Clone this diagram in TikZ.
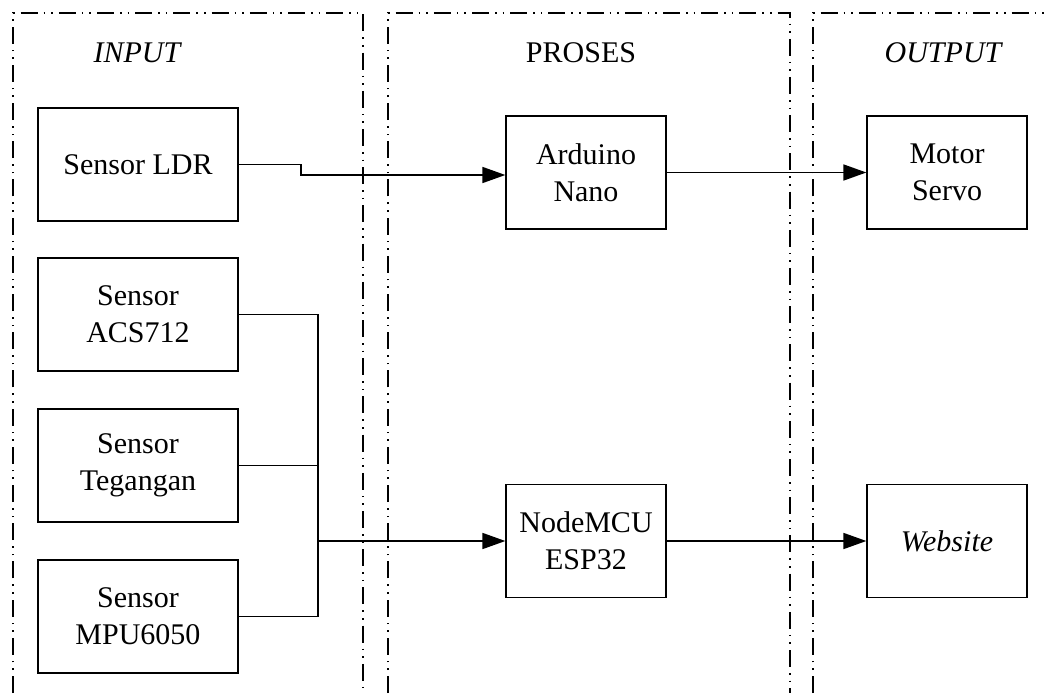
\documentclass[tikz,border=0pt]{standalone}
\usepackage{fontspec}
\setmainfont{Liberation Serif}
\usetikzlibrary{arrows.meta}
\begin{document}
\begin{tikzpicture}[x=1pt,y=-1pt,
  region/.style={line width=1.6pt,dash pattern=on 17pt off 6pt on 1.6pt off 6pt on 1.6pt off 6pt},
  blk/.style={draw,line width=1.3pt,minimum height=113pt,align=center,inner sep=0pt,font=\fontsize{30}{37}\selectfont},
  sensor/.style={blk,minimum width=200pt},
  proc/.style={blk,minimum width=160pt},
  title/.style={anchor=base,font=\fontsize{30}{37}\selectfont},
  conn/.style={line width=1.7pt},
  arr/.style={conn,-{Triangle[length=23pt,width=16pt]}}]
\useasboundingbox (0,0) rectangle (1048,693);
% regions
\draw[region] (13,693) -- (13,13) -- (363,13) -- (363,693);
\draw[region] (388,693) -- (388,13) -- (790,13) -- (790,693);
\draw[region] (813,693) -- (813,13) -- (1048,13);
% titles
\node[title] (tin) at (137,63) {\itshape INPUT};
\node[title] (tpr) at (581,63) {PROSES};
\node[title] (tout) at (943,63) {\itshape OUTPUT};
% blocks
\node[sensor] (ldr) at (138,164.5) {Sensor LDR};
\node[sensor] (acs) at (138,314.5) {Sensor\\ACS712};
\node[sensor] (teg) at (138,465.5) {Sensor\\Tegangan};
\node[sensor] (mpu) at (138,616.5) {Sensor\\MPU6050};
\node[proc] (ard) at (586,172.5) {Arduino\\Nano};
\node[proc] (nmcu) at (586,541) {NodeMCU\\ESP32};
\node[proc] (servo) at (947,172.5) {Motor\\Servo};
\node[proc] (web) at (947,541) {\itshape Website};
% connectors
\coordinate (s1) at (301,164.5);
\coordinate (s2) at (301,175);
\draw[arr] (ldr.east) -- (s1) -- (s2) -- (ard.west |- s2);
\draw[arr] (ard.east) -- (servo.west);
\coordinate (bt) at (318,314.5);
\coordinate (bb) at (318,616.5);
\draw[conn] (acs.east) -- (bt) -- (bb) -- (mpu.east);
\draw[conn] (teg.east) -- (bt |- teg.east);
\draw[arr] (bt |- nmcu.west) -- (nmcu.west);
\draw[arr] (nmcu.east) -- (web.west);
\end{tikzpicture}
\end{document}
